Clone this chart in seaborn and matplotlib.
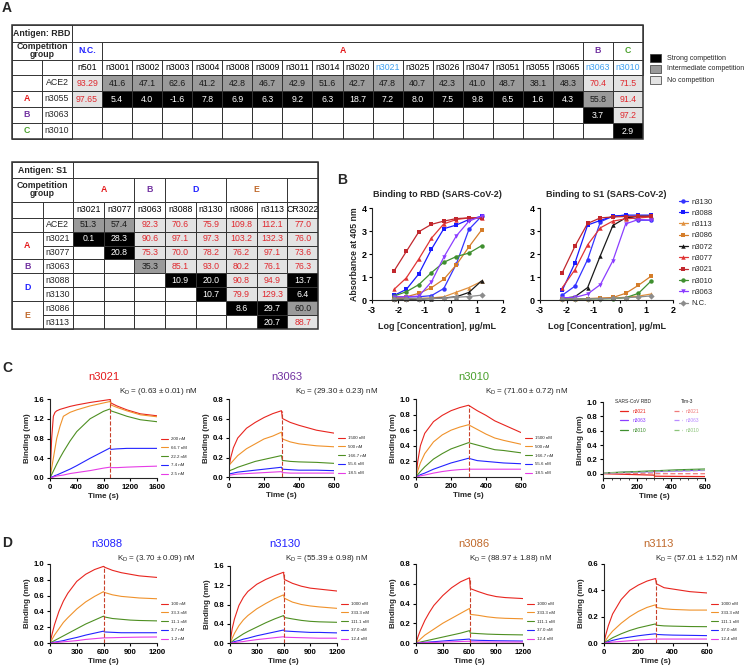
import numpy as np
import pandas as pd
import matplotlib
matplotlib.use("Agg")
import matplotlib.pyplot as plt
from matplotlib.colors import ListedColormap
from matplotlib.patches import Rectangle
from matplotlib.lines import Line2D
from matplotlib.ticker import FormatStrFormatter
import seaborn as sns

W, H = 747, 666

# ---------------- panel A : competition tables ----------------
rbd_cols = ["n501", "n3001", "n3002", "n3003", "n3004", "n3008", "n3009", "n3011", "n3014",
            "n3020", "n3021", "n3025", "n3026", "n3047", "n3051", "n3055", "n3065", "n3063", "n3010"]
rbd_blue_cols = ["n3021", "n3063", "n3010"]
rbd_rows = ["ACE2", "n3055", "n3063", "n3010"]
rbd_ace2 = ["93.29", "41.6", "47.1", "62.6", "41.2", "42.8", "46.7", "42.9", "51.6", "42.7",
            "47.8", "40.7", "42.3", "41.0", "48.7", "38.1", "48.3", "70.4", "71.5"]
rbd_n3055 = ["97.65", "5.4", "4.0", "-1.6", "7.8", "6.9", "6.3", "9.2", "6.3", "18.7",
             "7.2", "8.0", "7.5", "9.8", "6.5", "1.6", "4.3", "55.8", "91.4"]
rbd_n3063 = [None] * 17 + ["3.7", "97.2"]
rbd_n3010 = [None] * 18 + ["2.9"]
rbd_col_groups = [("N.C.", 0, 1, "#2020ff"), ("A", 1, 16, "#e41a1c"),
                  ("B", 17, 1, "#7030a0"), ("C", 18, 1, "#4aa02c")]
rbd_row_groups = [("", 0, 1, "k"), ("A", 1, 1, "#e41a1c"), ("B", 2, 1, "#7030a0"), ("C", 3, 1, "#4aa02c")]

s1_cols = ["n3021", "n3077", "n3063", "n3088", "n3130", "n3086", "n3113", "CR3022"]
s1_rows = ["ACE2", "n3021", "n3077", "n3063", "n3088", "n3130", "n3086", "n3113"]
s1_ace2 = ["51.3", "57.4", "92.3", "70.6", "75.9", "109.8", "112.1", "77.0"]
s1_n3021 = ["0.1", "28.3", "90.6", "97.1", "97.3", "103.2", "132.3", "76.0"]
s1_n3077 = [None, "20.8", "75.3", "70.0", "78.2", "76.2", "97.1", "73.6"]
s1_n3063 = [None, None, "35.3", "85.1", "93.0", "80.2", "76.1", "76.3"]
s1_n3088 = [None, None, None, "10.9", "20.0", "90.8", "94.9", "13.7"]
s1_n3130 = [None, None, None, None, "10.7", "79.9", "129.3", "6.4"]
s1_n3086 = [None, None, None, None, None, "8.6", "29.7", "60.0"]
s1_n3113 = [None, None, None, None, None, None, "20.7", "88.7"]
s1_col_groups = [("A", 0, 2, "#e41a1c"), ("B", 2, 1, "#7030a0"), ("D", 3, 2, "#2020ff"),
                 ("E", 5, 2, "#c0692b"), ("", 7, 1, "k")]
s1_row_groups = [("", 0, 1, "k"), ("A", 1, 2, "#e41a1c"), ("B", 3, 1, "#7030a0"),
                 ("D", 4, 2, "#2020ff"), ("E", 6, 2, "#c0692b")]

# ---------------- panel B : ELISA ----------------
logc = [-2.16, -1.69, -1.21, -0.73, -0.26, 0.22, 0.70, 1.18]
ab_names = ["n3130", "n3088", "n3113", "n3086", "n3072", "n3077", "n3021", "n3010", "n3063", "N.C."]
ab_colors = ["#3434ff", "#1a1aff", "#e0913f", "#d57d2a", "#1a1a1a", "#e03535", "#c1272d",
             "#3f8f2f", "#8b3dff", "#8c8c8c"]
ab_markers = ["o", "s", "^", "s", "^", "^", "s", "o", "v", "D"]
rbd_od = [
    [0.13, 0.13, 0.14, 0.19, 0.50, 1.57, 3.07, 3.64],
    [0.20, 0.46, 1.14, 2.21, 3.10, 3.26, 3.50, 3.64],
    [0.05, 0.06, 0.07, 0.09, 0.14, 0.34, 0.54, 0.81],
    [0.10, 0.14, 0.29, 0.54, 0.90, 1.53, 2.31, 3.04],
    [0.03, 0.03, 0.04, 0.06, 0.09, 0.14, 0.33, 0.83],
    [0.46, 0.96, 1.79, 2.69, 3.31, 3.50, 3.57, 3.57],
    [1.26, 2.11, 2.97, 3.29, 3.43, 3.54, 3.57, 3.57],
    [0.17, 0.36, 0.67, 1.19, 1.64, 1.89, 2.04, 2.36],
    [0.14, 0.14, 0.17, 0.79, 1.86, 2.79, 3.43, 3.64],
    [0.04, 0.05, 0.06, 0.07, 0.08, 0.12, 0.15, 0.21],
]
s1_od = [
    [0.21, 0.60, 1.76, 3.40, 3.64, 3.69, 3.47, 3.47],
    [0.43, 1.60, 3.26, 3.46, 3.64, 3.69, 3.69, 3.69],
    [0.05, 0.05, 0.06, 0.07, 0.08, 0.12, 0.17, 0.26],
    [0.05, 0.05, 0.06, 0.08, 0.11, 0.29, 0.64, 1.04],
    [0.07, 0.14, 0.54, 1.93, 3.24, 3.57, 3.64, 3.64],
    [0.54, 1.31, 2.40, 3.14, 3.43, 3.53, 3.57, 3.61],
    [1.19, 2.33, 3.33, 3.57, 3.61, 3.63, 3.64, 3.64],
    [0.04, 0.04, 0.05, 0.05, 0.06, 0.10, 0.29, 0.83],
    [0.10, 0.11, 0.26, 0.67, 1.71, 3.31, 3.50, 3.47],
    [0.04, 0.05, 0.05, 0.06, 0.07, 0.10, 0.13, 0.18],
]

# ---------------- panels C, D : BLI sensorgrams ----------------
kin_colors = ["#e8251f", "#f0922b", "#4e8f22", "#2323ff", "#e63ce6"]

n3021_t = [0, 25, 50, 75, 100, 150, 200, 300, 400, 600, 800, 900, 910, 1000, 1150, 1350, 1600]
n3021_conc = ["200", "66.7", "22.2", "7.4", "2.5"]
n3021_y = [
    [0, 0.80, 1.25, 1.33, 1.36, 1.39, 1.41, 1.45, 1.48, 1.53, 1.57, 1.59, 1.52, 1.46, 1.38, 1.30, 1.26],
    [0, 0.20, 0.40, 0.60, 0.80, 1.05, 1.25, 1.33, 1.38, 1.46, 1.52, 1.55, 1.48, 1.43, 1.36, 1.28, 1.24],
    [0, 0.07, 0.14, 0.21, 0.28, 0.41, 0.53, 0.75, 0.94, 1.20, 1.35, 1.40, 1.36, 1.32, 1.25, 1.18, 1.14],
    [0, 0.02, 0.03, 0.05, 0.06, 0.09, 0.12, 0.18, 0.25, 0.40, 0.54, 0.61, 0.58, 0.59, 0.60, 0.60, 0.60],
    [0, 0.01, 0.02, 0.03, 0.04, 0.05, 0.06, 0.09, 0.11, 0.15, 0.20, 0.22, 0.21, 0.21, 0.22, 0.23, 0.24],
]

n3063_t = [0, 10, 25, 50, 100, 150, 200, 250, 300, 305, 350, 400, 500, 600]
n3063_conc = ["1500", "500", "166.7", "55.6", "18.5"]
n3063_y = [
    [0.10, 0.20, 0.30, 0.40, 0.50, 0.56, 0.61, 0.65, 0.68, 0.60, 0.56, 0.53, 0.48, 0.45],
    [0.12, 0.14, 0.17, 0.22, 0.29, 0.34, 0.39, 0.42, 0.46, 0.39, 0.36, 0.34, 0.32, 0.31],
    [0.06, 0.07, 0.08, 0.10, 0.13, 0.16, 0.18, 0.20, 0.22, 0.17, 0.16, 0.155, 0.15, 0.14],
    [0.03, 0.035, 0.04, 0.05, 0.06, 0.07, 0.08, 0.09, 0.10, 0.08, 0.075, 0.07, 0.07, 0.065],
    [0.02, 0.02, 0.025, 0.03, 0.035, 0.04, 0.045, 0.05, 0.055, 0.045, 0.04, 0.04, 0.04, 0.04],
]

n3010_t = [0, 10, 25, 50, 100, 150, 200, 250, 300, 350, 400, 450, 500, 600]
n3010_conc = ["1500", "500", "166.7", "55.6", "18.5"]
n3010_y = [
    [0, 0.20, 0.40, 0.56, 0.71, 0.79, 0.85, 0.89, 0.92, 0.85, 0.79, 0.72, 0.67, 0.57],
    [0, 0.08, 0.18, 0.30, 0.45, 0.54, 0.60, 0.64, 0.67, 0.61, 0.55, 0.50, 0.47, 0.42],
    [0, 0.03, 0.07, 0.13, 0.23, 0.30, 0.36, 0.40, 0.44, 0.41, 0.38, 0.35, 0.34, 0.31],
    [0, 0.01, 0.03, 0.05, 0.10, 0.14, 0.18, 0.21, 0.24, 0.21, 0.20, 0.19, 0.18, 0.17],
    [0, 0.005, 0.015, 0.025, 0.05, 0.07, 0.085, 0.095, 0.10, 0.10, 0.10, 0.10, 0.10, 0.10],
]

ctrl_t = [0, 150, 300, 305, 450, 600]
ctrl_abs = ["n3021", "n3063", "n3010"]
ctrl_rbd = [
    [0.0, -0.01, -0.02, -0.035, -0.038, -0.04],
    [0.01, 0.02, 0.03, 0.03, 0.04, 0.05],
    [0.01, 0.025, 0.04, 0.04, 0.055, 0.065],
]
ctrl_tim3 = [
    [0.015, 0.005, -0.005, 0.0, 0.0, 0.0],
    [0.01, 0.015, 0.02, 0.025, 0.035, 0.045],
    [0.01, 0.02, 0.03, 0.035, 0.045, 0.055],
]

n3088_t = [0, 25, 50, 100, 150, 200, 300, 400, 500, 600, 610, 700, 800, 900, 1000, 1200]
n3088_conc = ["100", "33.3", "11.1", "3.7", "1.2"]
n3088_y = [
    [0, 0.12, 0.23, 0.40, 0.53, 0.63, 0.78, 0.87, 0.93, 0.97, 0.96, 0.92, 0.89, 0.87, 0.85, 0.83],
    [0, 0.05, 0.10, 0.18, 0.26, 0.32, 0.43, 0.52, 0.59, 0.65, 0.64, 0.61, 0.59, 0.58, 0.57, 0.56],
    [0, 0.015, 0.03, 0.06, 0.09, 0.12, 0.18, 0.24, 0.29, 0.34, 0.33, 0.31, 0.30, 0.29, 0.285, 0.28],
    [0, 0.005, 0.01, 0.02, 0.03, 0.045, 0.07, 0.10, 0.125, 0.15, 0.14, 0.135, 0.13, 0.13, 0.13, 0.13],
    [0, 0.002, 0.005, 0.01, 0.015, 0.02, 0.03, 0.045, 0.055, 0.065, 0.065, 0.067, 0.07, 0.072, 0.074, 0.076],
]

n3130_t = [0, 25, 50, 100, 150, 200, 300, 400, 500, 600, 610, 700, 800, 900, 1000, 1200]
n3130_conc = ["1000", "333.3", "111.1", "37.0", "12.4"]
n3130_y = [
    [0, 0.30, 0.50, 0.78, 0.95, 1.07, 1.22, 1.32, 1.40, 1.47, 1.32, 1.24, 1.18, 1.14, 1.12, 1.08],
    [0, 0.10, 0.20, 0.36, 0.48, 0.57, 0.71, 0.82, 0.92, 1.00, 0.93, 0.85, 0.80, 0.77, 0.75, 0.72],
    [0, 0.03, 0.07, 0.13, 0.19, 0.24, 0.33, 0.42, 0.50, 0.57, 0.53, 0.50, 0.47, 0.45, 0.44, 0.43],
    [0, 0.01, 0.03, 0.05, 0.08, 0.10, 0.15, 0.19, 0.23, 0.27, 0.25, 0.24, 0.23, 0.22, 0.22, 0.21],
    [0, 0.005, 0.01, 0.02, 0.03, 0.045, 0.07, 0.09, 0.11, 0.13, 0.12, 0.115, 0.11, 0.105, 0.10, 0.10],
]

n3086_t = [0, 25, 50, 100, 150, 200, 300, 400, 500, 600, 610, 700, 800, 900, 1000, 1200]
n3086_conc = ["1000", "333.3", "111.1", "37.0", "12.4"]
n3086_y = [
    [0, 0.07, 0.13, 0.23, 0.31, 0.38, 0.48, 0.56, 0.62, 0.66, 0.55, 0.52, 0.49, 0.47, 0.46, 0.45],
    [0, 0.02, 0.04, 0.08, 0.11, 0.14, 0.20, 0.25, 0.30, 0.35, 0.29, 0.28, 0.265, 0.255, 0.25, 0.245],
    [0, 0.005, 0.01, 0.02, 0.03, 0.04, 0.06, 0.08, 0.10, 0.125, 0.10, 0.095, 0.09, 0.087, 0.085, 0.082],
    [0, 0.002, 0.004, 0.007, 0.01, 0.013, 0.02, 0.027, 0.033, 0.04, 0.03, 0.027, 0.025, 0.023, 0.022, 0.02],
    [0, 0.001, 0.002, 0.003, 0.005, 0.006, 0.009, 0.012, 0.015, 0.018, 0.012, 0.011, 0.01, 0.01, 0.01, 0.01],
]

n3113_t = [0, 10, 25, 50, 100, 150, 200, 250, 300, 305, 350, 400, 500, 600]
n3113_conc = ["1000", "333.3", "111.1", "37.0", "12.4"]
n3113_y = [
    [0, 0.06, 0.13, 0.22, 0.33, 0.40, 0.44, 0.47, 0.49, 0.45, 0.42, 0.41, 0.39, 0.38],
    [0, 0.02, 0.05, 0.09, 0.15, 0.20, 0.24, 0.27, 0.29, 0.27, 0.26, 0.255, 0.25, 0.25],
    [0, 0.01, 0.02, 0.04, 0.07, 0.095, 0.115, 0.13, 0.145, 0.135, 0.13, 0.128, 0.125, 0.124],
    [0, 0.004, 0.01, 0.02, 0.035, 0.045, 0.055, 0.063, 0.07, 0.065, 0.062, 0.06, 0.058, 0.056],
    [0, 0.002, 0.004, 0.007, 0.012, 0.017, 0.022, 0.026, 0.03, 0.03, 0.03, 0.03, 0.03, 0.03],
]

sns.set_style("ticks")
plt.rcParams["font.family"] = ["Liberation Sans", "DejaVu Sans"]
plt.rcParams["mathtext.fontset"] = "custom"
plt.rcParams["mathtext.rm"] = "Liberation Sans"
plt.rcParams["mathtext.it"] = "Liberation Sans"
plt.rcParams["axes.linewidth"] = 0.8
plt.rcParams["axes.unicode_minus"] = False

fig = plt.figure(figsize=(W / 100, H / 100), dpi=100)


def add_ax(l, t, r, b):
    return fig.add_axes([l / W, 1 - b / H, (r - l) / W, (b - t) / H])


def bold_ticks(ax, fs):
    ax.tick_params(labelsize=fs, length=2.5, width=0.8, pad=1.5, colors="black")
    for lab in ax.get_xticklabels() + ax.get_yticklabels():
        lab.set_fontweight("bold")


# ---------------- tables ----------------
cell_cmap = ListedColormap(["white", "#e3e3e3", "#9a9a9a", "black"])
val_colors = {0: "k", 1: "#e0282e", 2: "#1a1a1a", 3: "white"}


def draw_table(ax, rows_txt, cols, col_colors, row_names, col_groups, row_groups, antigen, head_h, fs):
    vals = np.array([[np.nan if s is None else float(s) for s in r] for r in rows_txt])
    codes = np.select([np.isnan(vals), vals < 30, vals < 70], [0, 3, 2], 1)
    sns.heatmap(codes, ax=ax, cmap=cell_cmap, vmin=-0.5, vmax=3.5, cbar=False,
                linewidths=0.6, linecolor="#333333", xticklabels=False, yticklabels=False)
    nr, nc = codes.shape
    h1, h2, h3 = head_h
    top = -(h1 + h2 + h3)
    ax.set_xlim(-2, nc)
    ax.set_ylim(nr, top)
    ax.axis("off")

    def box(x0, y0, w, h, text="", **kw):
        ax.add_patch(Rectangle((x0, y0), w, h, fill=False, lw=0.6, ec="#333333", clip_on=False))
        if text:
            ax.text(x0 + w / 2, y0 + h / 2, text, ha="center", va="center", **kw)

    for i in range(nr):
        for j in range(nc):
            s = rows_txt[i][j]
            if s:
                ax.text(j + 0.5, i + 0.52, s, ha="center", va="center",
                        color=val_colors[int(codes[i, j])], fontsize=fs)
    box(-2, top, 2, h1, antigen, fontsize=fs, fontweight="bold")
    box(0, top, nc, h1)
    box(-2, top + h1, 2, h2, "Competition\ngroup", fontsize=fs, fontweight="bold", linespacing=0.85)
    for lab, st, sp, c in col_groups:
        box(st, top + h1, sp, h2, lab, fontsize=fs, fontweight="bold", color=c)
    box(-2, -h3, 1, h3)
    box(-1, -h3, 1, h3)
    for j, name in enumerate(cols):
        box(j, -h3, 1, h3, name, fontsize=fs, color=col_colors[j])
    for i, name in enumerate(row_names):
        box(-1, i, 1, 1, name, fontsize=fs)
    for lab, st, sp, c in row_groups:
        box(-2, st, 1, sp, lab, fontsize=fs, fontweight="bold", color=c)
    ax.add_patch(Rectangle((-2, top), nc + 2, nr - top, fill=False, lw=1.1, ec="#333333", clip_on=False))


ax_rbd = add_ax(12, 25, 643, 139)
draw_table(ax_rbd, [rbd_ace2, rbd_n3055, rbd_n3063, rbd_n3010], rbd_cols,
           ["#3fa0f0" if c in rbd_blue_cols else "k" for c in rbd_cols], rbd_rows,
           rbd_col_groups, rbd_row_groups, "Antigen: RBD", (1.05, 1.1, 0.95), 6.3)

ax_s1 = add_ax(12, 162, 318, 329)
draw_table(ax_s1, [s1_ace2, s1_n3021, s1_n3077, s1_n3063, s1_n3088, s1_n3130, s1_n3086, s1_n3113],
           s1_cols, ["k"] * len(s1_cols), s1_rows, s1_col_groups, s1_row_groups,
           "Antigen: S1", (1.15, 1.7, 1.15), 6.3)

for k, (lab, c) in enumerate([("Strong competition", "black"),
                              ("Intermediate competition", "#9a9a9a"),
                              ("No competition", "#e3e3e3")]):
    yc = 58 + 11 * k
    fig.add_artist(Rectangle((650 / W, 1 - (yc + 4) / H), 11 / W, 8 / H, transform=fig.transFigure,
                             fc=c, ec="#333333", lw=0.5))
    fig.text(667 / W, 1 - yc / H, lab, fontsize=5, va="center")

# ---------------- panel B ----------------
for k, (od, ttl, rect) in enumerate([(rbd_od, "Binding to RBD (SARS-CoV-2)", (372, 208, 503, 300)),
                                     (s1_od, "Binding to S1 (SARS-CoV-2)", (540, 208, 673, 300))]):
    ax = add_ax(*rect)
    df = pd.DataFrame({"logc": np.tile(logc, len(ab_names)),
                       "od": np.concatenate(od),
                       "ab": np.repeat(ab_names, len(logc))})
    sns.lineplot(data=df, x="logc", y="od", hue="ab", style="ab", hue_order=ab_names,
                 style_order=ab_names, palette=ab_colors, markers=ab_markers, dashes=False,
                 markersize=3.2, markeredgewidth=0, lw=0.9, ax=ax, legend=(k == 1))
    for ln in ax.lines:
        ln.set_clip_on(False)
    ax.set_xlim(-3, 2)
    ax.set_ylim(0, 4)
    ax.set_xticks(range(-3, 3))
    ax.set_yticks(range(0, 5))
    sns.despine(ax=ax)
    ax.set_title(ttl, fontsize=6.5, fontweight="bold", pad=8)
    ax.set_xlabel("Log [Concentration], µg/mL", fontsize=6.5, fontweight="bold", labelpad=5)
    if k == 0:
        ax.set_ylabel("Absorbance at 405 nm", fontsize=6.3, fontweight="bold", labelpad=2)
    else:
        ax.set_ylabel("")
        ax.legend(loc="upper left", bbox_to_anchor=(1.02, 1.14), frameon=False, fontsize=5.5,
                  handlelength=1.2, handletextpad=0.5, labelspacing=0.52, borderaxespad=0)
    bold_ticks(ax, 6.5)


# ---------------- panels C, D ----------------
def sensorgram(rect, t, concs, ys, t_sw, xticks, yticks, title, tcol, kd, title_cx, title_y, kd_x, kd_y):
    ax = add_ax(*rect)
    labels = [c + " nM" for c in concs]
    df = pd.DataFrame({"t": np.tile(t, len(concs)), "y": np.concatenate(ys),
                       "c": np.repeat(labels, len(t))})
    sns.lineplot(data=df, x="t", y="y", hue="c", hue_order=labels, palette=kin_colors,
                 lw=0.8, ax=ax)
    ax.plot([t_sw, t_sw], [0, max(ys[0])], ls="--", color="#c8402a", lw=0.8)
    ax.set_xlim(xticks[0], xticks[-1])
    ax.set_ylim(yticks[0], yticks[-1])
    ax.set_xticks(xticks)
    ax.set_yticks(yticks)
    ax.yaxis.set_major_formatter(FormatStrFormatter("%.1f"))
    sns.despine(ax=ax)
    ax.set_xlabel("Time (s)", fontsize=5.8, fontweight="bold", labelpad=1.5)
    ax.set_ylabel("Binding (nm)", fontsize=5.8, fontweight="bold", labelpad=2)
    ax.legend(loc="lower left", bbox_to_anchor=(1.02, 0.0), frameon=False, fontsize=3.2,
              handlelength=1.6, handletextpad=0.6, labelspacing=1.05, borderaxespad=0)
    bold_ticks(ax, 5.6)
    fig.text(title_cx / W, 1 - title_y / H, title, color=tcol, fontsize=8, ha="center", va="center")
    fig.text(kd_x / W, 1 - kd_y / H, "K$_\\mathrm{D}$ = " + kd + " nM", fontsize=5.8, va="center")
    return ax


sensorgram((50, 399, 157, 478), n3021_t, n3021_conc, n3021_y, 900, [0, 400, 800, 1200, 1600],
           [0, 0.4, 0.8, 1.2, 1.6], "n3021", "#e41a1c", "(0.63 ± 0.01)", 104, 377, 119, 392)
sensorgram((229, 399, 334, 477), n3063_t, n3063_conc, n3063_y, 300, [0, 200, 400, 600],
           [0, 0.2, 0.4, 0.6, 0.8], "n3063", "#7030a0", "(29.30 ± 0.23)", 287, 377, 295, 392)
sensorgram((416, 399, 521, 477), n3010_t, n3010_conc, n3010_y, 300, [0, 200, 400, 600],
           [0, 0.2, 0.4, 0.6, 0.8, 1.0], "n3010", "#4aa02c", "(71.60 ± 0.72)", 474, 377, 485, 392)
sensorgram((50, 564, 157, 643), n3088_t, n3088_conc, n3088_y, 600, [0, 300, 600, 900, 1200],
           [0, 0.2, 0.4, 0.6, 0.8, 1.0], "n3088", "#2020ff", "(3.70 ± 0.09)", 107, 544, 117, 558)
sensorgram((230, 566, 337, 643), n3130_t, n3130_conc, n3130_y, 600, [0, 300, 600, 900, 1200],
           [0, 0.4, 0.8, 1.2, 1.6], "n3130", "#2020ff", "(55.39 ± 0.98)", 285, 544, 285, 558)
sensorgram((416, 564, 523, 643), n3086_t, n3086_conc, n3086_y, 600, [0, 300, 600, 900, 1200],
           [0, 0.2, 0.4, 0.6, 0.8], "n3086", "#c0692b", "(88.97 ± 1.88)", 474, 544, 469, 558)
sensorgram((604, 564, 707, 643), n3113_t, n3113_conc, n3113_y, 300, [0, 200, 400, 600],
           [0, 0.2, 0.4, 0.6], "n3113", "#c0692b", "(57.01 ± 1.52)", 658, 544, 655, 558)

# control panel: SARS-CoV RBD and Tim-3
ax = add_ax(603, 402, 705, 478)
ctrl_solid = ["#e8251f", "#8b3dff", "#3f8f2f"]
ctrl_light = ["#f07a7a", "#b98cff", "#8cc47a"]
df_c = pd.DataFrame({"t": np.tile(ctrl_t, 6),
                     "y": np.concatenate(ctrl_rbd + ctrl_tim3),
                     "s": np.repeat([a + " RBD" for a in ctrl_abs] + [a + " Tim-3" for a in ctrl_abs], len(ctrl_t)),
                     "target": np.repeat(["SARS-CoV RBD"] * 3 + ["Tim-3"] * 3, len(ctrl_t))})
sns.lineplot(data=df_c, x="t", y="y", hue="s", style="target", palette=ctrl_solid + ctrl_light,
             dashes={"SARS-CoV RBD": "", "Tim-3": (4, 2)}, lw=0.9, ax=ax, legend=False)
ax.plot([300, 300], [-0.04, 0.05], color="#b5472a", lw=0.8)
ax.set_xlim(0, 600)
ax.set_ylim(-0.06, 1.0)
ax.set_xticks([0, 200, 400, 600])
ax.set_xticks(range(0, 601, 50), minor=True)
ax.tick_params(axis="x", which="minor", length=1.5, width=0.6)
ax.set_yticks([0, 0.2, 0.4, 0.6, 0.8, 1.0])
ax.yaxis.set_major_formatter(FormatStrFormatter("%.1f"))
sns.despine(ax=ax)
ax.set_xlabel("Time (s)", fontsize=5.8, fontweight="bold", labelpad=1.5)
ax.set_ylabel("Binding (nm)", fontsize=5.8, fontweight="bold", labelpad=2)
h_solid = [Line2D([], [], color=c, lw=0.9) for c in ctrl_solid]
h_dash = [Line2D([], [], color=c, lw=0.9, ls=(0, (4, 2))) for c in ctrl_light]
leg1 = ax.legend(h_solid, ctrl_abs, title="SARS-CoV RBD", loc="upper left", bbox_to_anchor=(0.1, 1.06),
                 frameon=False, fontsize=3.5, title_fontsize=3.5, labelcolor=ctrl_solid,
                 handlelength=1.6, labelspacing=0.9, borderaxespad=0)
ax.add_artist(leg1)
ax.legend(h_dash, ctrl_abs, title="Tim-3", loc="upper left", bbox_to_anchor=(0.68, 1.06),
          frameon=False, fontsize=3.5, title_fontsize=3.5, labelcolor=ctrl_light,
          handlelength=1.6, labelspacing=0.9, borderaxespad=0)
bold_ticks(ax, 5.6)

# panel letters
for lab, x, y in [("A", 7, 8), ("B", 342, 180), ("C", 7, 368), ("D", 7, 543)]:
    fig.text(x / W, 1 - y / H, lab, fontsize=10, fontweight="bold", ha="center", va="center")

fig.savefig("out.png", dpi=100)
